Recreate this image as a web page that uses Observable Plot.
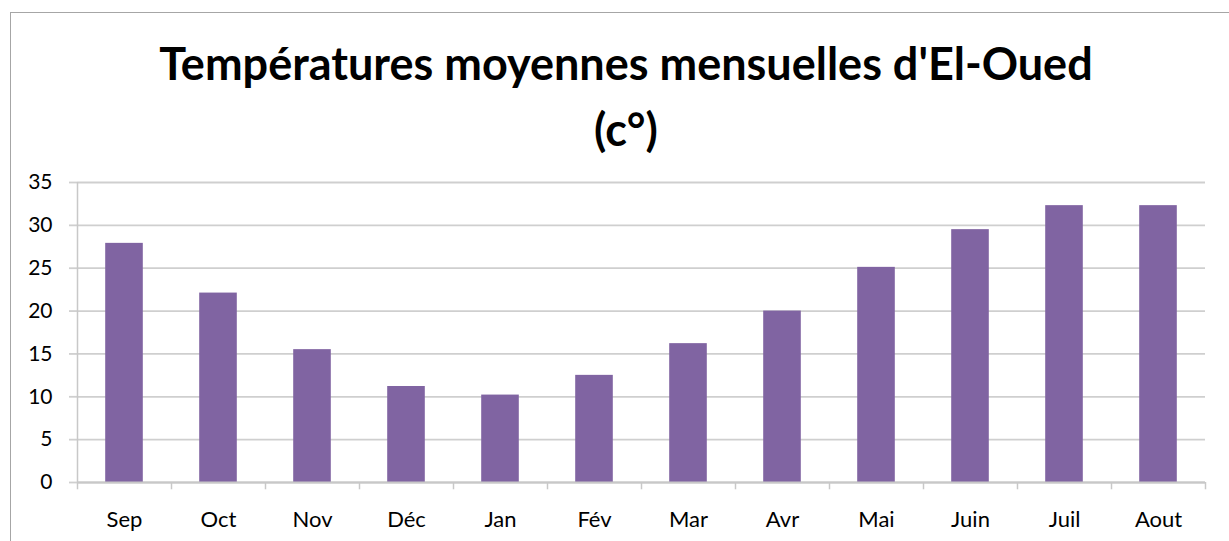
<!DOCTYPE html>
<html>
<head>
<meta charset="utf-8">
<script src="https://cdn.jsdelivr.net/npm/d3@7"></script>
<script src="https://cdn.jsdelivr.net/npm/@observablehq/plot@0.6"></script>
<style>
  html, body { margin: 0; padding: 0; background: #fff; }
  body { width: 1229px; height: 541px; overflow: hidden; position: relative; font-family: Lato, "Open Sans", sans-serif; }
  #border { position: absolute; left: 10px; top: 12px; width: 1240px; height: 560px; border: 1px solid #a6a6a6; box-sizing: border-box; }
  #title { position: absolute; left: 10px; width: 1232px; top: 30px; text-align: center; font-weight: 700; font-size: 45px; line-height: 66px; color: #000; }
  #chart { position: absolute; left: 0; top: 160px; }
</style>
</head>
<body>
<div id="border"></div>
<div id="title">Températures moyennes mensuelles d'El-Oued<br>(c°)</div>
<div id="chart"></div>
<script>
const months = ["Sep", "Oct", "Nov", "Déc", "Jan", "Fév", "Mar", "Avr", "Mai", "Juin", "Juil", "Aout"];
const temps = [27.9, 22.1, 15.5, 11.2, 10.2, 12.5, 16.2, 20.0, 25.1, 29.5, 32.3, 32.3];
const yTicks = [0, 5, 10, 15, 20, 25, 30, 35];

const data = months.map((m, i) => ({month: m, t: temps[i]}));

const W = 1229, H = 381, mL = 77, mR = 24, mT = 22, mB = 59;
const half = (W - mL - mR) / months.length / 2;
const boundaries = months.map((m, i) => ({month: m, dx: -half})).concat([{month: months[months.length - 1], dx: half}]);

const plot = Plot.plot({
  width: W,
  height: H,
  marginLeft: mL,
  marginRight: mR,
  marginTop: mT,
  marginBottom: mB,
  style: {fontFamily: "Lato, 'Open Sans', sans-serif", fontSize: "21px", color: "#000", background: "transparent"},
  x: {domain: months, padding: 0, label: null},
  y: {domain: [0, 35], label: null},
  marks: [
    Plot.gridY(yTicks, {stroke: "#cfcfcf", strokeOpacity: 1, strokeWidth: 1.8}),
    Plot.axisY(yTicks, {tickSize: 8, tickPadding: 17, stroke: "#cfcfcf", strokeWidth: 1.8, fill: "#000", fontSize: 21, tickFormat: d => String(d), label: null}),
    Plot.barY(data, {x: "month", y: "t", fill: "#8064a2", insetLeft: half * 0.6, insetRight: half * 0.6}),
    Plot.ruleY([0], {stroke: "#c8c8c8", strokeWidth: 1.8}),
    Plot.ruleX(boundaries.filter((d, i) => i === 0), {x: "month", dx: -half, y1: 0, y2: 35, stroke: "#c8c8c8", strokeWidth: 1.5}),
    Plot.ruleX(boundaries.slice(0, -1), {x: "month", dx: -half, y1: 0, y2: -0.85, stroke: "#c8c8c8", strokeWidth: 1.5}),
    Plot.ruleX(boundaries.slice(-1), {x: "month", dx: half, y1: 0, y2: -0.85, stroke: "#c8c8c8", strokeWidth: 1.5}),
    Plot.axisX({tickSize: 0, tickPadding: 29, fill: "#000", fontSize: 22, label: null, style: {letterSpacing: "0.5px"}})
  ]
});
document.getElementById("chart").appendChild(plot);
</script>
</body>
</html>
